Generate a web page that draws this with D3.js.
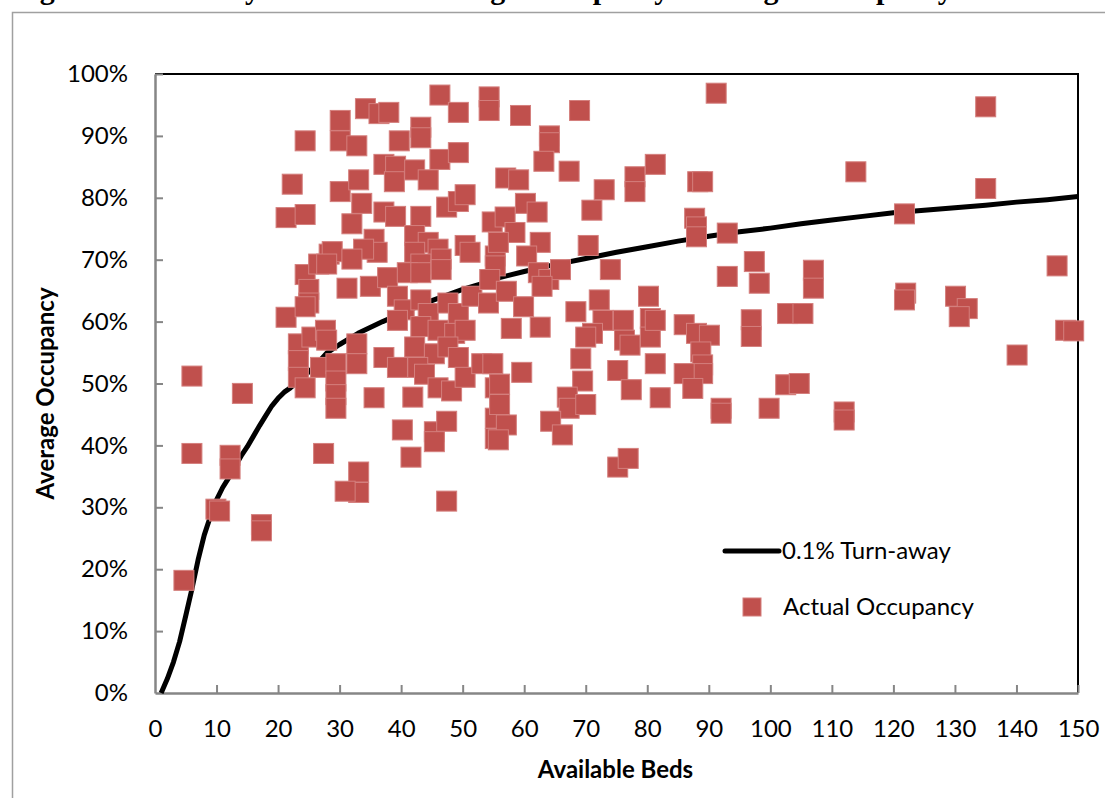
<!DOCTYPE html>
<html>
<head>
<meta charset="utf-8">
<script src="https://cdn.jsdelivr.net/npm/d3@7"></script>
<style>
  body { margin: 0; background: #fff; }
  svg { display: block; }
</style>
</head>
<body>
<script>
// Actual occupancy: available beds and average occupancy (%)
const beds = [
  4.7, 6.0, 6.0, 9.9, 10.5, 12.2, 12.2, 14.2, 17.3, 17.3,
  24.4, 22.3, 21.3, 24.4, 21.3,
  24.4, 25.0, 25.0, 24.4, 26.6, 28.3, 28.8,
  23.3, 23.3, 23.3, 24.4, 25.5, 27.7, 26.9, 29.4, 29.4, 29.4, 29.4, 27.4,
  46.3, 54.3, 54.3, 34.2, 36.4, 38.0, 49.3, 30.1, 30.1, 43.2, 43.2, 32.8, 39.7,
  37.2, 39.1, 38.9, 42.2, 44.4, 46.3, 49.3, 30.1, 33.1, 33.6, 37.2, 39.1, 43.2,
  47.4, 49.3, 50.4, 32.0, 35.6, 36.1, 33.9, 27.9, 32.0,
  42.2, 44.4, 46.0, 46.5, 42.2, 43.2, 50.4, 51.2, 54.8, 55.3, 55.3,
  31.2, 35.0, 37.8, 41.0, 43.2, 46.5, 39.4, 40.5, 43.2, 44.4, 47.6, 49.3, 51.5, 54.2,
  39.4, 43.2, 46.0, 48.7, 50.4, 42.2, 45.4, 47.6, 49.3, 32.8, 32.8, 27.9,
  37.2, 39.4, 42.7, 43.8, 46.0, 48.2, 50.4, 53.1, 35.6, 41.9, 55.3, 55.3, 55.3,
  40.2, 45.4, 45.4, 47.4, 41.6, 33.1, 33.1, 30.9, 47.4,
  59.4, 69.0, 64.1, 64.1, 63.2, 67.3, 57.0, 59.1, 73.0, 78.0, 78.0, 81.3,
  60.2, 62.1, 71.0, 56.9, 58.5, 55.8, 62.6, 60.4, 62.3, 64.0, 65.9, 70.4, 74.0,
  54.4, 57.1, 59.9, 62.9, 57.9, 62.6, 68.4, 72.2, 72.8, 76.1, 71.1, 70.0, 76.3, 77.2,
  80.2, 80.5, 80.5, 81.3, 54.9, 56.0, 56.0, 57.1, 55.8, 59.6, 69.2, 69.5,
  67.0, 67.3, 70.0, 64.3, 66.2, 75.2, 77.4, 81.3, 82.1, 75.2, 76.9,
  91.2, 88.2, 89.0, 113.9, 87.7, 88.0, 88.0, 93.0, 97.4, 93.0, 98.2, 107.0, 107.0,
  86.0, 88.0, 90.1, 96.9, 96.9, 102.8, 105.3, 88.7, 89.0, 89.0, 86.0, 87.4,
  92.0, 92.0, 99.8, 102.5, 104.7, 112.0, 112.0,
  135.0, 135.0, 121.8, 146.6, 122.0, 121.8, 130.1, 132.0, 130.7, 148.0, 149.3, 140.1
];
const occupancy = [
  18.2, 51.2, 38.7, 29.7, 29.4, 38.4, 36.2, 48.4, 27.2, 26.2,
  89.2, 82.2, 76.8, 77.3, 60.7,
  67.6, 65.2, 63.0, 62.4, 69.3, 70.9, 71.3,
  56.4, 53.7, 51.0, 49.3, 57.5, 58.6, 52.6, 53.2, 50.4, 48.2, 46.0, 38.7,
  96.6, 96.3, 94.1, 94.4, 93.6, 93.8, 93.8, 92.5, 89.2, 91.4, 89.7, 88.4, 89.2,
  85.4, 85.1, 82.6, 84.5, 82.9, 86.2, 87.3, 81.0, 82.9, 79.1, 77.7, 77.0, 77.0,
  78.5, 79.4, 80.5, 75.8, 73.3, 71.2, 71.7, 69.3, 70.1,
  73.9, 72.8, 71.7, 70.1, 71.2, 69.3, 72.3, 71.2, 76.1, 70.6, 69.0,
  65.4, 65.7, 67.1, 67.9, 67.9, 68.4, 64.1, 61.9, 63.5, 61.3, 63.0, 61.3, 64.1, 63.0,
  60.2, 59.2, 58.6, 58.1, 58.6, 55.9, 54.8, 55.9, 54.2, 56.4, 53.2, 57.0,
  54.2, 52.6, 52.6, 51.5, 49.3, 48.8, 51.0, 53.2, 47.7, 47.8, 49.3, 44.4, 41.1,
  42.5, 42.2, 40.6, 43.9, 38.1, 35.7, 32.4, 32.6, 31.0,
  93.3, 94.1, 90.0, 88.9, 85.9, 84.3, 83.2, 82.9, 81.3, 83.4, 81.0, 85.4,
  79.1, 77.7, 78.0, 76.9, 74.4, 72.8, 72.8, 70.6, 67.9, 66.8, 68.4, 72.3, 68.4,
  66.8, 64.9, 62.4, 65.7, 58.9, 59.1, 61.6, 63.5, 60.2, 60.2, 58.1, 57.5, 57.0, 56.2,
  64.1, 60.5, 57.5, 60.2, 53.2, 49.9, 46.6, 43.3, 40.9, 51.8, 54.0, 50.4,
  47.8, 46.0, 46.6, 43.9, 41.7, 52.1, 49.0, 53.2, 47.7, 36.5, 37.9,
  96.9, 82.6, 82.6, 84.2, 76.7, 75.3, 73.7, 74.3, 69.7, 67.3, 66.2, 68.3, 65.4,
  59.5, 58.1, 57.8, 60.3, 57.6, 61.3, 61.3, 55.1, 53.0, 51.6, 51.6, 49.2,
  46.0, 45.2, 46.0, 49.8, 50.0, 45.4, 44.1,
  94.7, 81.5, 77.4, 69.0, 64.6, 63.5, 64.1, 62.1, 60.8, 58.6, 58.5, 54.6
];

// 0.1% turn-away curve
const curveBeds = [1, 2, 3, 4, 5, 6, 7, 8, 9, 10, 11, 12, 13, 14, 15, 16, 17, 18, 19, 20,
  21, 22, 24, 26, 28, 30, 33, 37, 40, 45, 50, 53, 56, 60, 64, 70, 75, 80, 85, 90,
  95, 100, 105, 110, 115, 120, 125, 130, 135, 140, 145, 150];
const curveOcc = [0, 2.3, 5, 8.3, 12.5, 16.8, 21.5, 25.5, 28.5, 31.2, 33.2, 34.8, 36.6, 38.3, 39.8, 41.5, 43.2, 44.8, 46.4, 47.6,
  48.6, 49.3, 51.0, 52.8, 55.0, 56.3, 58.1, 60.0, 61.3, 63.4, 65.2, 66.1, 67.1, 68.1, 69.0, 70.2, 71.2, 72.1, 73.0, 73.8,
  74.5, 75.1, 75.8, 76.4, 77.0, 77.6, 78.0, 78.4, 78.8, 79.3, 79.7, 80.2];

const xTicks = d3.range(0, 151, 10);
const yTicks = d3.range(0, 101, 10);
const seriesNames = ["0.1% Turn-away", "Actual Occupancy"];
const titleText = "Figure 10. Monthly Actual Bed Average Occupancy vs. Target Occupancy";

const W = 1105, H = 798;
const margin = { top: 74, right: 27, bottom: 105, left: 155 };
const width = W - margin.left - margin.right;
const height = H - margin.top - margin.bottom;
const red = "#C0504D";
const axisGrey = "#868686";
const font = "Lato, 'Open Sans', sans-serif";

const svg = d3.select("body").append("svg")
    .attr("width", W)
    .attr("height", H);

// caption line of the page above the chart, cut off by the top edge
svg.append("text")
    .attr("x", 13)
    .attr("y", -1)
    .attr("font-family", "'Liberation Serif', 'Times New Roman', serif")
    .attr("font-weight", "bold")
    .attr("font-size", 30)
    .text(titleText);

// outer chart frame
svg.append("rect")
    .attr("x", 12.5)
    .attr("y", 12.5)
    .attr("width", W + 10)
    .attr("height", H + 10)
    .attr("fill", "none")
    .attr("stroke", "#A0A0A0")
    .attr("stroke-width", 1.5);

const g = svg.append("g")
    .attr("transform", "translate(" + margin.left + "," + margin.top + ")");

const x = d3.scaleLinear().domain([0, 150]).range([0, width]);
const y = d3.scaleLinear().domain([0, 100]).range([height, 0]);

// top and right plot border
g.append("path")
    .attr("d", "M0,0H" + width + "V" + height)
    .attr("fill", "none")
    .attr("stroke", "#000")
    .attr("stroke-width", 2);

const xAxis = d3.axisBottom(x)
    .tickValues(xTicks)
    .tickSize(-8)
    .tickSizeOuter(0)
    .tickPadding(27);

const yAxis = d3.axisLeft(y)
    .tickValues(yTicks)
    .tickSize(-8)
    .tickSizeOuter(0)
    .tickPadding(27)
    .tickFormat(d => d + "%");

const gx = g.append("g")
    .attr("transform", "translate(0," + height + ")")
    .call(xAxis);

const gy = g.append("g").call(yAxis);

[gx, gy].forEach(function(a) {
    a.select(".domain").attr("stroke", axisGrey).attr("stroke-width", 2.5);
    a.selectAll(".tick line").attr("stroke", axisGrey).attr("stroke-width", 2);
    a.selectAll(".tick text")
        .attr("fill", "#000")
        .attr("font-family", font)
        .attr("font-size", 24);
});
gx.selectAll(".tick").filter(d => d === 0).select("line").remove();
gy.selectAll(".tick").filter(d => d === 0).select("line").remove();

// axis titles
g.append("text")
    .attr("x", width / 2 - 1)
    .attr("y", height + 85)
    .attr("text-anchor", "middle")
    .attr("font-family", font)
    .attr("font-weight", "bold")
    .attr("font-size", 24)
    .text("Available Beds");

g.append("text")
    .attr("transform", "translate(-101," + (height / 2 + 10) + ") rotate(-90)")
    .attr("text-anchor", "middle")
    .attr("font-family", font)
    .attr("font-weight", "bold")
    .attr("font-size", 24)
    .text("Average Occupancy");

// turn-away line
const line = d3.line()
    .x((d, i) => x(curveBeds[i]))
    .y(d => y(d));

g.append("path")
    .datum(curveOcc)
    .attr("fill", "none")
    .attr("stroke", "#000")
    .attr("stroke-width", 5)
    .attr("stroke-linejoin", "round")
    .attr("d", line);

// actual occupancy markers
const s = 20;
g.selectAll(".pt")
    .data(beds)
    .enter().append("rect")
    .attr("class", "pt")
    .attr("x", (d, i) => x(d) - s / 2)
    .attr("y", (d, i) => y(occupancy[i]) - s / 2)
    .attr("width", s)
    .attr("height", s)
    .attr("fill", red)
    .attr("stroke", "#D47F7D")
    .attr("stroke-width", 1);

// legend
const lg = svg.append("g");
lg.append("line")
    .attr("x1", 725).attr("x2", 779)
    .attr("y1", 551).attr("y2", 551)
    .attr("stroke", "#000")
    .attr("stroke-width", 5)
    .attr("stroke-linecap", "round");
lg.append("text")
    .attr("x", 782).attr("y", 559)
    .attr("font-family", font)
    .attr("font-size", 24)
    .text(seriesNames[0]);
lg.append("rect")
    .attr("x", 743).attr("y", 598)
    .attr("width", 18).attr("height", 18)
    .attr("fill", red)
    .attr("stroke", "#D47F7D");
lg.append("text")
    .attr("x", 783).attr("y", 615)
    .attr("font-family", font)
    .attr("font-size", 24)
    .text(seriesNames[1]);
</script>
</body>
</html>
